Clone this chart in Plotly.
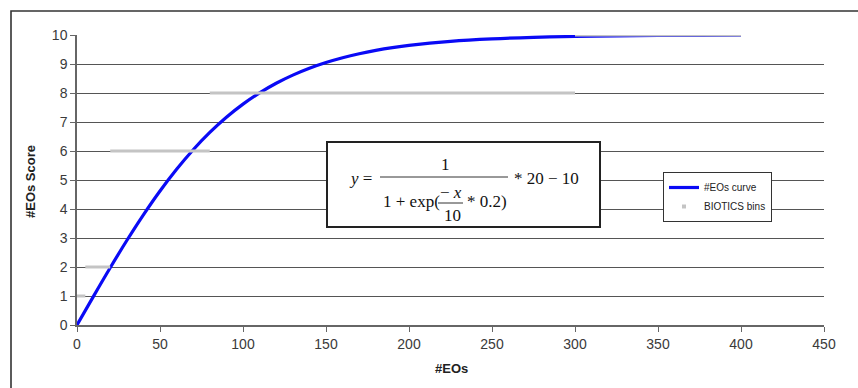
import plotly.graph_objects as go

# #EOs score curve, sampled values
eo_counts = [0, 10, 20, 30, 40, 50, 60, 70, 80, 90, 100, 110, 120, 130, 140,
             150, 160, 170, 180, 190, 200, 225, 250, 275, 300, 325, 350, 375, 400]
eo_scores = [0, 0.997, 1.974, 2.913, 3.799, 4.621, 5.370, 6.044, 6.640, 7.163,
             7.616, 8.005, 8.337, 8.617, 8.854, 9.051, 9.217, 9.354, 9.468, 9.562,
             9.640, 9.780, 9.866, 9.919, 9.951, 9.970, 9.982, 9.989, 9.993]

# BIOTICS bins: start, end, score
bin_starts = [0, 5, 20, 80, 300]
bin_ends = [5, 20, 80, 300, 400]
bin_scores = [1, 2, 6, 8, 10]

x_ticks = [0, 50, 100, 150, 200, 250, 300, 350, 400, 450]
y_ticks = [0, 1, 2, 3, 4, 5, 6, 7, 8, 9, 10]

bx, by = [], []
for s, e, v in zip(bin_starts, bin_ends, bin_scores):
    bx += [s, e, None]
    by += [v, v, None]

fig = go.Figure()
fig.add_trace(go.Scatter(
    x=eo_counts, y=eo_scores, mode="lines", name="#EOs curve",
    line=dict(color="#0a0af5", width=3.2, shape="spline"),
))
fig.add_trace(go.Scatter(
    x=bx, y=by, mode="lines", showlegend=False,
    line=dict(color="#c4c4c4", width=3),
))
# legend entry for the bins (small square marker)
fig.add_trace(go.Scatter(
    x=[None], y=[None], mode="markers", name="BIOTICS bins",
    marker=dict(color="#c4c4c4", size=4, symbol="square"),
))

# plot-area geometry in pixels, used to place paper-anchored items
L, R, T, B = 77, 824, 35, 325


def px(x):
    return (x - L) / (R - L)


def py(y):
    return (B - y) / (B - T)


shapes = []
annotations = []

# outer frame
shapes.append(dict(type="rect", xref="paper", yref="paper",
                   x0=px(11), x1=px(900), y0=py(420), y1=py(11),
                   line=dict(color="#333333", width=1.6), layer="below"))

# equation box
shapes.append(dict(type="rect", xref="paper", yref="paper",
                   x0=px(327), x1=px(600), y0=py(227), y1=py(142),
                   line=dict(color="#222222", width=2), fillcolor="white",
                   layer="above"))
# main fraction bar
shapes.append(dict(type="line", xref="paper", yref="paper",
                   x0=px(380), x1=px(508), y0=py(177), y1=py(177),
                   line=dict(color="#333333", width=1), layer="above"))
# inner fraction bar
shapes.append(dict(type="line", xref="paper", yref="paper",
                   x0=px(438), x1=px(463), y0=py(203), y1=py(203),
                   line=dict(color="#333333", width=1), layer="above"))

serif = dict(family="Liberation Serif, Times New Roman, serif", size=17, color="#111111")


def eq_text(text, x, y, xanchor="center"):
    annotations.append(dict(text=text, xref="paper", yref="paper",
                            x=px(x), y=py(y), xanchor=xanchor, yanchor="middle",
                            showarrow=False, font=serif))


eq_text("<i>y</i> =", 347, 178, "left")
eq_text("1", 445, 164)
eq_text("* 20 \u2212 10", 512, 178, "left")
eq_text("1 + exp(", 381, 202, "left")
eq_text("\u2212 <i>x</i>", 451, 192)
eq_text("10", 452, 215)
eq_text("* 0.2)", 465, 202, "left")

# axis titles
annotations.append(dict(text="<b>#EOs Score</b>", xref="paper", yref="paper",
                        x=px(30), y=py(181), textangle=-90, showarrow=False,
                        xanchor="center", yanchor="middle",
                        font=dict(family="Arial, Liberation Sans", size=13, color="#222222")))
annotations.append(dict(text="<b>#EOs</b>", xref="paper", yref="paper",
                        x=px(451), y=py(368), showarrow=False,
                        xanchor="center", yanchor="middle",
                        font=dict(family="Arial, Liberation Sans", size=13, color="#222222")))

fig.update_layout(
    width=858, height=388,
    margin=dict(l=L, r=858 - R, t=T, b=388 - B),
    paper_bgcolor="white", plot_bgcolor="white",
    font=dict(family="Arial, Liberation Sans", size=14, color="#333333"),
    shapes=shapes, annotations=annotations,
    legend=dict(x=px(663), y=py(172), xanchor="left", yanchor="top",
                bgcolor="white", bordercolor="#333333", borderwidth=1,
                font=dict(family="Arial, Liberation Sans", size=10, color="#222222"),
                tracegroupgap=0, itemwidth=30),
    showlegend=True,
)
fig.update_xaxes(range=[0, 450], tickvals=x_ticks, showgrid=False,
                 showline=True, linecolor="#666666", linewidth=1.5,
                 ticks="outside", ticklen=5, tickcolor="#666666", zeroline=False,
                 tickfont=dict(size=14, color="#3a3a3a"), fixedrange=True)
fig.update_yaxes(range=[0, 10], tickvals=y_ticks, showgrid=True,
                 gridcolor="#555555", gridwidth=1.3,
                 showline=True, linecolor="#666666", linewidth=1.5,
                 ticks="outside", ticklen=5, tickcolor="#666666", zeroline=False,
                 tickfont=dict(size=14, color="#3a3a3a"), fixedrange=True)

fig.write_html("out.html")
